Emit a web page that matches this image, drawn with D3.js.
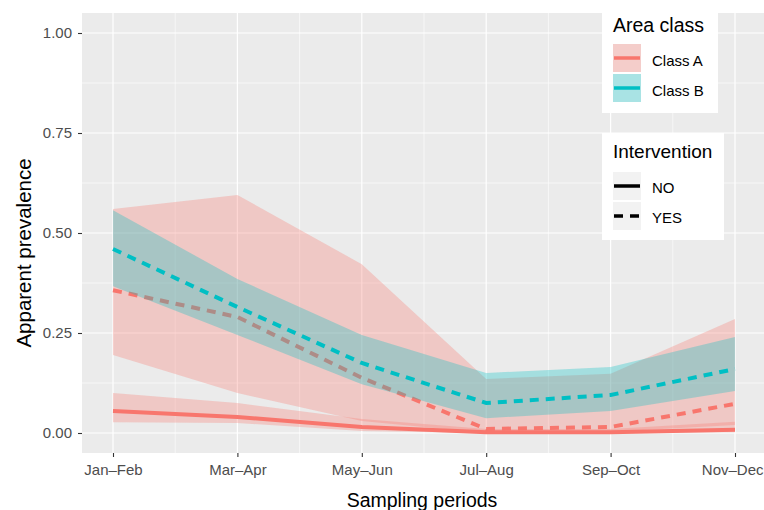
<!DOCTYPE html>
<html>
<head>
<meta charset="utf-8">
<script src="https://cdn.jsdelivr.net/npm/d3@7"></script>
<style>
  html, body { margin: 0; padding: 0; background: #fff; }
  svg { display: block; font-family: "Liberation Sans", Arial, sans-serif; }
</style>
</head>
<body>
<svg id="chart" width="764" height="510"></svg>
<script>
// Sampling periods (x positions 1..6)
const periods = ["Jan\u2013Feb", "Mar\u2013Apr", "May\u2013Jun", "Jul\u2013Aug", "Sep\u2013Oct", "Nov\u2013Dec"];
const yTicks = [0, 0.25, 0.5, 0.75, 1];

// Class A, no intervention
const aNoMean  = [0.055, 0.040, 0.015, 0.002, 0.002, 0.008];
const aNoLow   = [0.027, 0.025, 0.005, 0.000, 0.000, 0.002];
const aNoHigh  = [0.100, 0.075, 0.035, 0.010, 0.010, 0.028];

// Class A, intervention
const aYesMean = [0.357, 0.290, 0.138, 0.010, 0.015, 0.073];
const aYesLow  = [0.195, 0.100, 0.030, 0.000, 0.003, 0.020];
const aYesHigh = [0.560, 0.595, 0.422, 0.135, 0.148, 0.285];

// Class B, intervention
const bYesMean = [0.460, 0.315, 0.175, 0.075, 0.095, 0.160];
const bYesLow  = [0.367, 0.245, 0.122, 0.037, 0.055, 0.105];
const bYesHigh = [0.557, 0.385, 0.245, 0.150, 0.165, 0.240];

const colA = "#F8766D", colB = "#00BFC4";
const ribbonAlpha = 0.3;
const dash = "9 7";

const W = 764;
const svg = d3.select("#chart");
const panel = { left: 82, right: 766, top: 13, bottom: 453 };

const x = d3.scaleLinear().domain([1, 6]).range([113, 735]);
const y = d3.scaleLinear().domain([0, 1]).range([433, 33]);

// panel background
svg.append("rect")
  .attr("x", panel.left).attr("y", panel.top)
  .attr("width", panel.right - panel.left).attr("height", panel.bottom - panel.top)
  .attr("fill", "#EBEBEB");

const grid = svg.append("g");
// minor grid
d3.range(0.125, 1, 0.25).forEach(v => {
  grid.append("line").attr("x1", panel.left).attr("x2", panel.right)
    .attr("y1", y(v)).attr("y2", y(v)).attr("stroke", "#fff").attr("stroke-width", 0.6);
});
d3.range(1.5, 6, 1).forEach(v => {
  grid.append("line").attr("y1", panel.top).attr("y2", panel.bottom)
    .attr("x1", x(v)).attr("x2", x(v)).attr("stroke", "#fff").attr("stroke-width", 0.6);
});
// major grid
yTicks.forEach(v => {
  grid.append("line").attr("x1", panel.left).attr("x2", panel.right)
    .attr("y1", y(v)).attr("y2", y(v)).attr("stroke", "#fff").attr("stroke-width", 1.2);
});
periods.forEach((p, i) => {
  grid.append("line").attr("y1", panel.top).attr("y2", panel.bottom)
    .attr("x1", x(i + 1)).attr("x2", x(i + 1)).attr("stroke", "#fff").attr("stroke-width", 1.2);
});

const idx = d3.range(periods.length);
const area = (lo, hi) => d3.area()
  .x(i => x(i + 1)).y0(i => y(lo[i])).y1(i => y(hi[i]))(idx);
const line = vals => d3.line().x(i => x(i + 1)).y(i => y(vals[i]))(idx);

const marks = svg.append("g");
// Class A ribbons and lines
marks.append("path").attr("d", area(aYesLow, aYesHigh)).attr("fill", colA).attr("fill-opacity", ribbonAlpha);
marks.append("path").attr("d", area(aNoLow, aNoHigh)).attr("fill", colA).attr("fill-opacity", ribbonAlpha);
marks.append("path").attr("d", line(aNoMean)).attr("fill", "none")
  .attr("stroke", colA).attr("stroke-width", 4);
marks.append("path").attr("d", line(aYesMean)).attr("fill", "none")
  .attr("stroke", colA).attr("stroke-width", 4).attr("stroke-dasharray", dash);
// Class B ribbon and line
marks.append("path").attr("d", area(bYesLow, bYesHigh)).attr("fill", colB).attr("fill-opacity", ribbonAlpha);
marks.append("path").attr("d", line(bYesMean)).attr("fill", "none")
  .attr("stroke", colB).attr("stroke-width", 4).attr("stroke-dasharray", dash);

// axes
const tickFont = 15;
const yAxis = d3.axisLeft(y).tickValues(yTicks).tickFormat(d3.format(".2f")).tickSize(4).tickPadding(6);
const gy = svg.append("g").attr("transform", `translate(${panel.left},0)`).call(yAxis);
gy.select(".domain").remove();
gy.selectAll(".tick line").attr("stroke", "#333").attr("stroke-width", 1.1);
gy.selectAll(".tick text").attr("fill", "#4D4D4D").attr("font-size", tickFont)
  .attr("font-family", "Liberation Sans, Arial, sans-serif");

const xAxis = d3.axisBottom(x).tickValues(d3.range(1, 7)).tickFormat(d => periods[d - 1]).tickSize(4).tickPadding(7);
const gx = svg.append("g").attr("transform", `translate(0,${panel.bottom})`).call(xAxis);
gx.select(".domain").remove();
gx.selectAll(".tick line").attr("stroke", "#333").attr("stroke-width", 1.1);
gx.selectAll(".tick text").attr("fill", "#4D4D4D").attr("font-size", tickFont)
  .attr("font-family", "Liberation Sans, Arial, sans-serif")
  .each(function (d) {
    // keep the last period label inside the drawing area
    const half = this.getComputedTextLength() / 2;
    const over = x(d) + half - (W - 1);
    if (over > 0) d3.select(this).attr("x", -over);
  });

// axis titles
svg.append("text").attr("x", 422).attr("y", 507).attr("text-anchor", "middle")
  .attr("font-size", 19.5).attr("fill", "#000").text("Sampling periods");
svg.append("text").attr("transform", "translate(31,253) rotate(-90)").attr("text-anchor", "middle")
  .attr("font-size", 20.5).attr("fill", "#000").text("Apparent prevalence");

// legend: Area class
const lg1 = svg.append("g");
lg1.append("rect").attr("x", 602).attr("y", 12).attr("width", 116).attr("height", 101).attr("fill", "#fff");
lg1.append("text").attr("x", 613).attr("y", 32).attr("font-size", 19.5).text("Area class");
[["Class A", colA], ["Class B", colB]].forEach(([lab, c], i) => {
  const ky = 44 + i * 30;
  lg1.append("rect").attr("x", 613).attr("y", ky).attr("width", 28).attr("height", 28).attr("fill", "#F2F2F2");
  lg1.append("rect").attr("x", 613).attr("y", ky).attr("width", 28).attr("height", 28)
    .attr("fill", c).attr("fill-opacity", ribbonAlpha);
  lg1.append("line").attr("x1", 614).attr("x2", 640).attr("y1", ky + 14).attr("y2", ky + 14)
    .attr("stroke", c).attr("stroke-width", 3.5);
  lg1.append("text").attr("x", 652).attr("y", ky + 21.5).attr("font-size", 15).text(lab);
});

// legend: Intervention
const lg2 = svg.append("g");
lg2.append("rect").attr("x", 602).attr("y", 133).attr("width", 122).attr("height", 107).attr("fill", "#fff");
lg2.append("text").attr("x", 613).attr("y", 158).attr("font-size", 19).text("Intervention");
[["NO", null], ["YES", dash]].forEach(([lab, d], i) => {
  const ky = 172 + i * 30;
  lg2.append("rect").attr("x", 613).attr("y", ky).attr("width", 28).attr("height", 28).attr("fill", "#F2F2F2");
  const l = lg2.append("line").attr("x1", 614).attr("x2", 640).attr("y1", ky + 14).attr("y2", ky + 14)
    .attr("stroke", "#000").attr("stroke-width", 3.5);
  if (d) l.attr("stroke-dasharray", d);
  lg2.append("text").attr("x", 652).attr("y", ky + 20.5).attr("font-size", 15).text(lab);
});
</script>
</body>
</html>
